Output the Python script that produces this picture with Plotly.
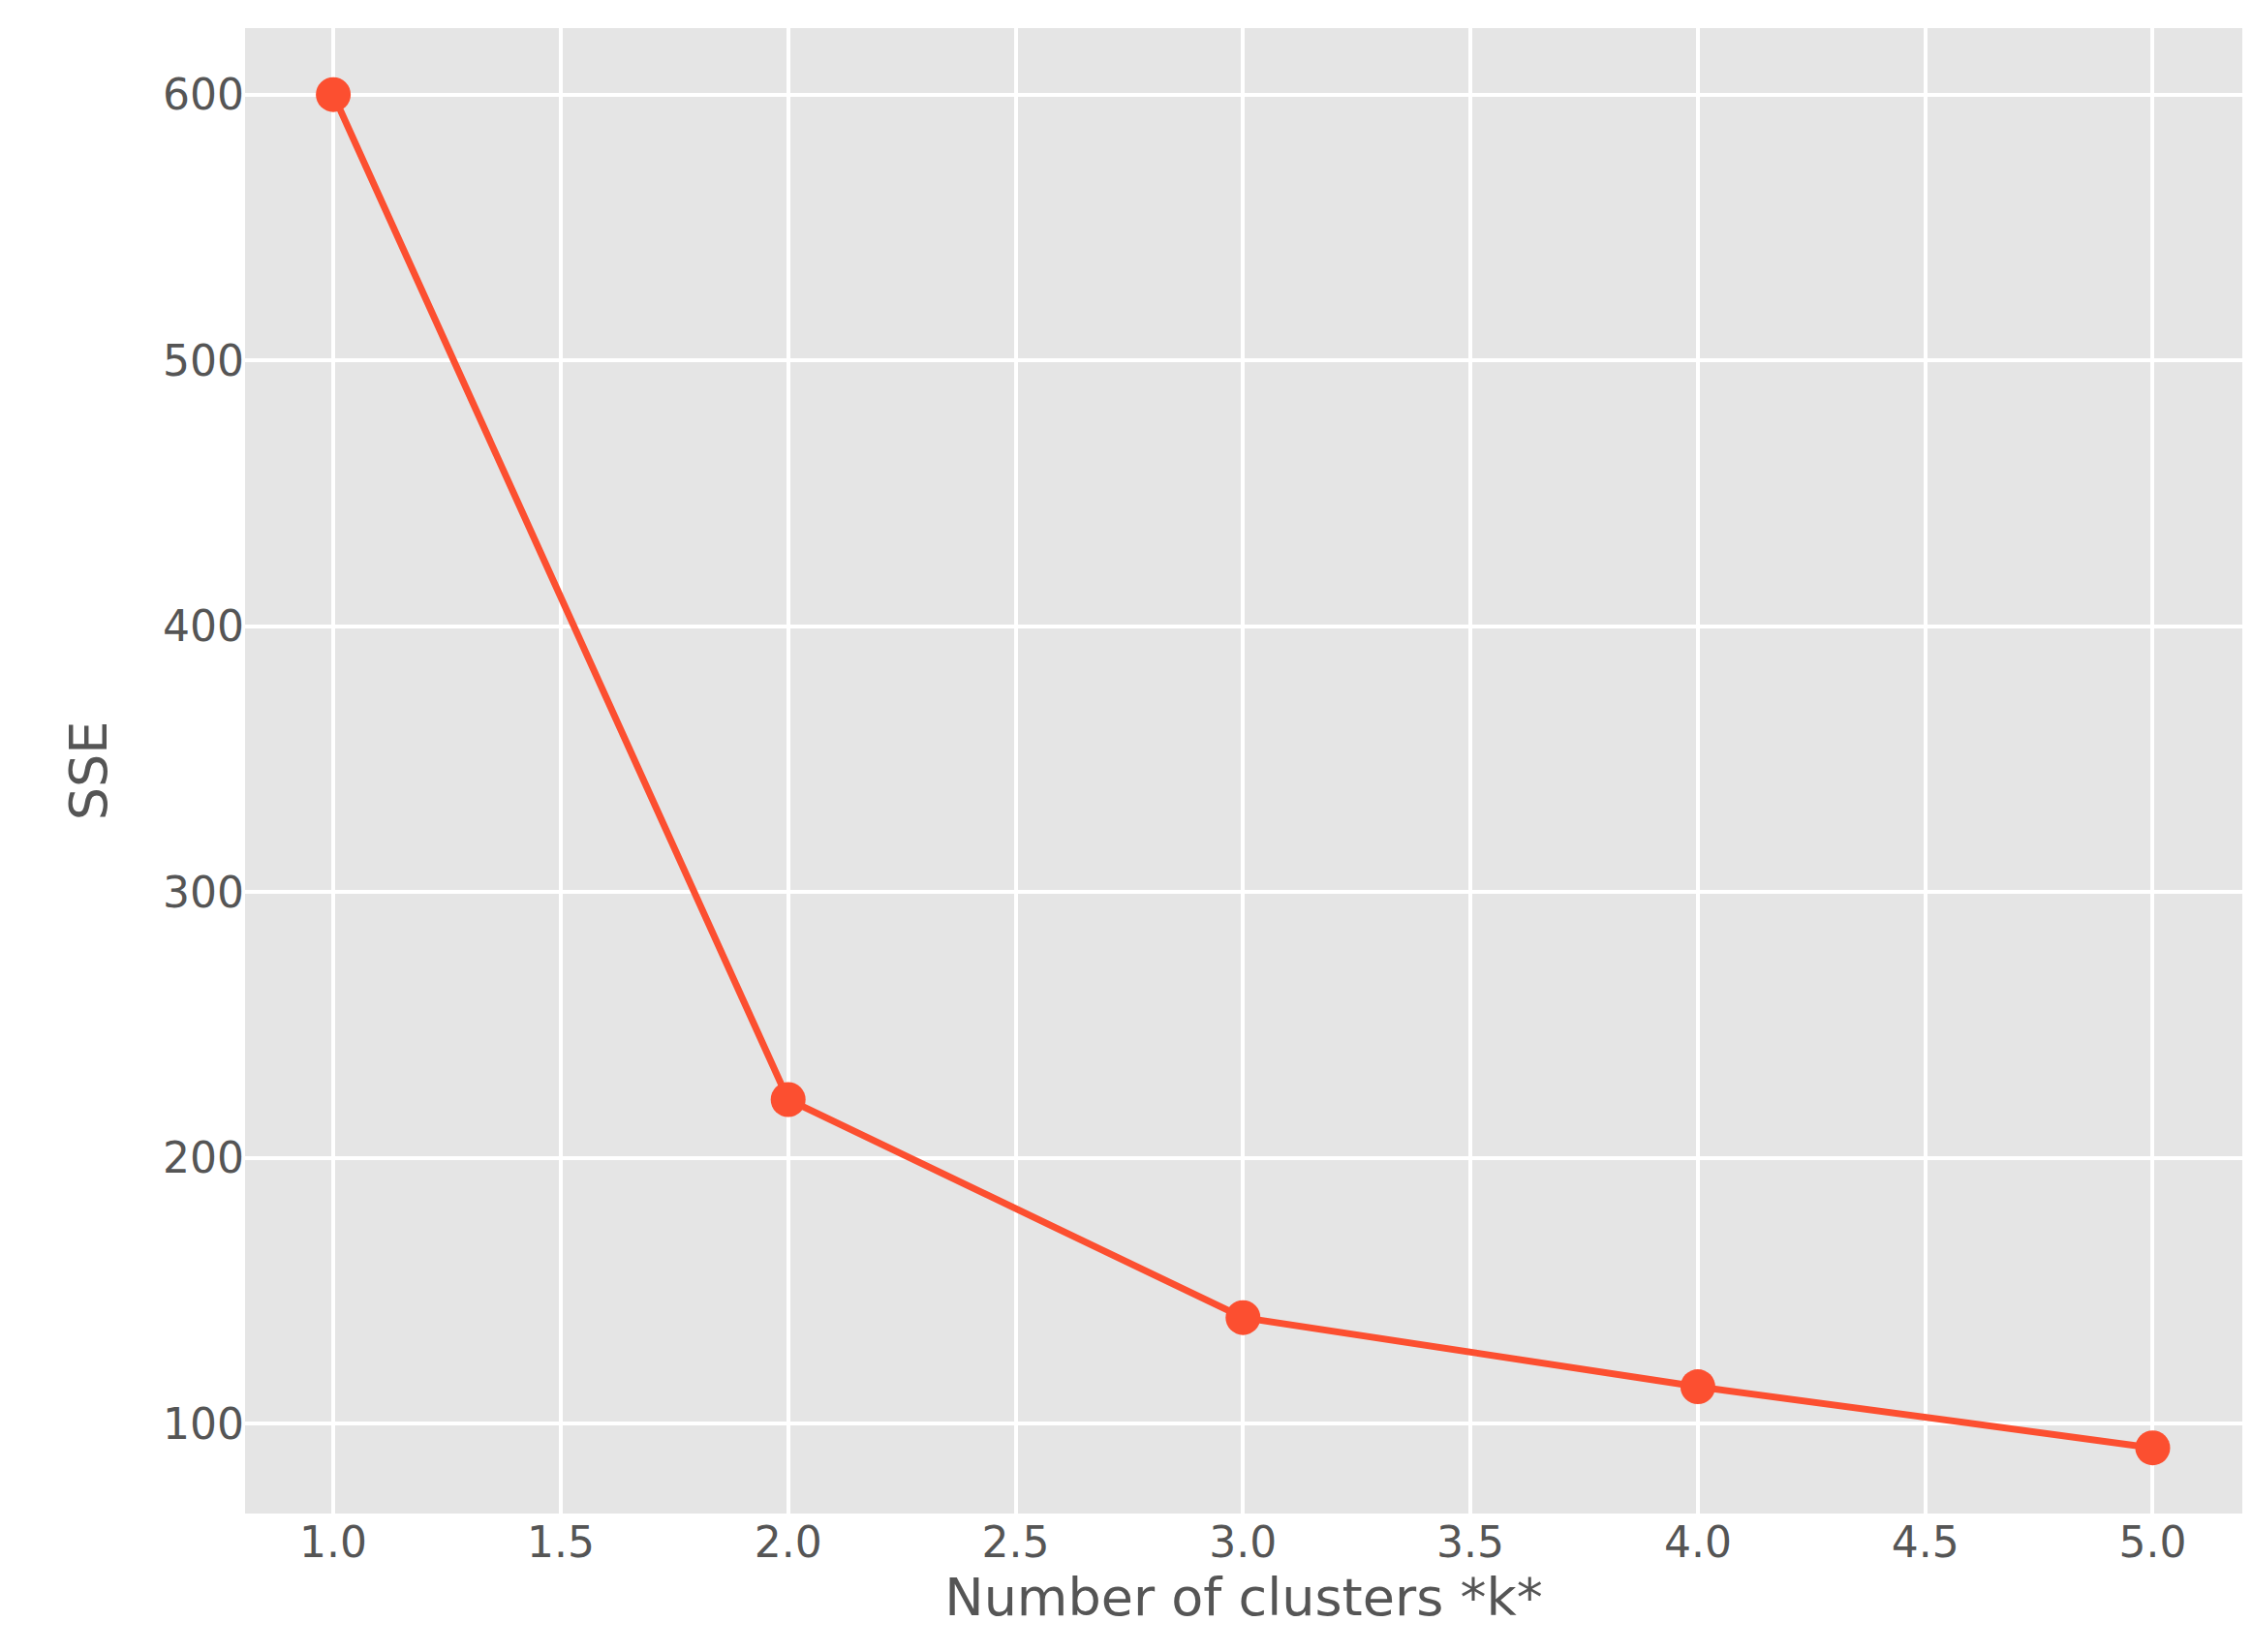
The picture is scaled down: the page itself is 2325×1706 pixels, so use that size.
import plotly.graph_objects as go

k_values = [1, 2, 3, 4, 5]
sse_values = [600, 222, 140, 114, 91]
x_ticks = [1.0, 1.5, 2.0, 2.5, 3.0, 3.5, 4.0, 4.5, 5.0]
y_ticks = [100, 200, 300, 400, 500, 600]

fig = go.Figure(go.Scatter(
    x=k_values, y=sse_values, mode="lines+markers",
    line=dict(color="#FC4F30", width=7),
    marker=dict(color="#FC4F30", size=36),
))
font = "DejaVu Sans, sans-serif"
fig.update_layout(
    width=2325, height=1706,
    margin=dict(l=245, r=18, t=21, b=151),
    paper_bgcolor="white", plot_bgcolor="#E5E5E5",
    showlegend=False,
    font=dict(family=font, color="#555555", size=44),
)
fig.update_xaxes(
    range=[0.806, 5.197], tickvals=x_ticks, ticktext=[f"{v:.1f}" for v in x_ticks],
    showgrid=True, gridcolor="white", gridwidth=4, zeroline=False,
    ticks="", ticklen=0, tickfont=dict(size=44, color="#555555"),
    title=dict(text="Number of clusters *k*", font=dict(size=54, color="#555555"), standoff=10),
)
fig.update_yaxes(
    range=[66.3, 625], tickvals=y_ticks,
    showgrid=True, gridcolor="white", gridwidth=4, zeroline=False,
    ticks="", tickfont=dict(size=44, color="#555555"),
    title=dict(text="SSE", font=dict(size=54, color="#555555"), standoff=40),
)
fig.write_html("out.html")
